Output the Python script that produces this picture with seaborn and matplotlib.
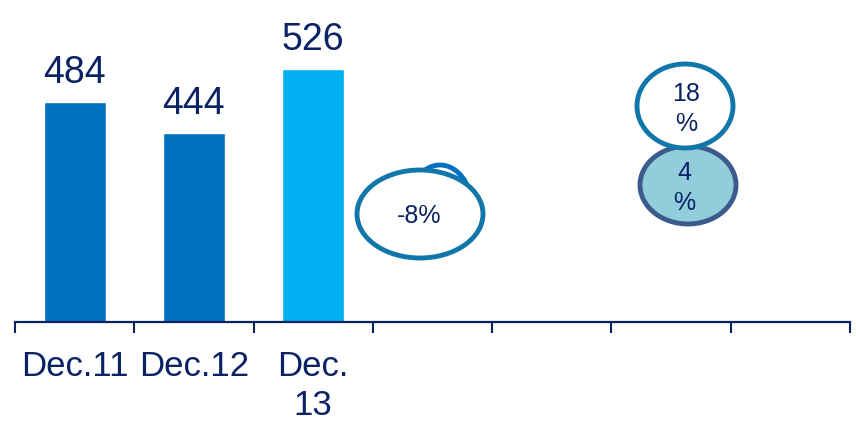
import matplotlib
matplotlib.use("Agg")
import matplotlib.pyplot as plt
from matplotlib.patches import Ellipse
from matplotlib.ticker import FixedLocator
import seaborn as sns

# ---- data ----
categories = ["Dec.11", "Dec.12", "Dec.13"]
values = [484, 444, 526]
tick_labels = ["Dec.11", "Dec.12", "Dec.\n13", "", "", "", ""]
slot_order = ["Dec.11", "Dec.12", "Dec.13", "s4", "s5", "s6", "s7"]
bar_colors = ["#0070C0", "#0070C0", "#00B0F0"]
bubble_texts = ["-8%", "18\n%", "4\n%"]

NAVY = "#0B2265"
W, H = 856, 424

sns.set_theme(style="white")
plt.rcParams["font.family"] = ["Liberation Sans", "DejaVu Sans"]

fig = plt.figure(figsize=(W / 100, H / 100), dpi=100)
ax = fig.add_axes([15 / W, (H - 322) / H, 835 / W, 322 / H])

sns.barplot(x=categories, y=values, hue=categories, palette=bar_colors,
            order=slot_order, hue_order=categories, width=0.52,
            legend=False, ax=ax, saturation=1)

ax.set_xlim(-0.5, 6.5)
ax.set_ylim(200, 200 + 322 / 0.776)

for c in ax.containers:
    ax.bar_label(c, fmt="%d", padding=8, fontsize=27, color=NAVY)

# axes styling
for s in ["top", "right", "left"]:
    ax.spines[s].set_visible(False)
ax.spines["bottom"].set_color(NAVY)
ax.spines["bottom"].set_linewidth(1.6)
ax.set_yticks([])
ax.set_xlabel("")
ax.set_ylabel("")

ax.xaxis.set_major_locator(FixedLocator([i - 0.5 for i in range(8)]))
ax.xaxis.set_minor_locator(FixedLocator(list(range(7))))
ax.set_xticklabels([""] * 8)
ax.set_xticklabels(tick_labels, minor=True, fontsize=25, color=NAVY,
                   linespacing=1.25)
ax.tick_params(axis="x", which="major", direction="out", length=8, width=1.5,
               color=NAVY, bottom=True)
ax.tick_params(axis="x", which="minor", length=0, pad=20)

# ---- annotation bubbles (axes pixel positions) ----
def px(x, y):
    return ((x - 15) / 835, (322 - y) / 322)

def ell(cx, cy, w, h, fc, ec, lw, z):
    e = Ellipse(px(cx, cy), w / 835, h / 322, transform=ax.transAxes,
                facecolor=fc, edgecolor=ec, linewidth=lw, zorder=z, clip_on=False)
    ax.add_patch(e)

# hidden bubble behind -8%
ell(440, 208, 64, 86, "white", "#0070C0", 3.5, 3)
ell(420, 214, 126, 88, "white", "#1177AA", 3.5, 4)
ax.text(*px(419, 216), bubble_texts[0], transform=ax.transAxes, ha="center",
        va="center", fontsize=18, color=NAVY, zorder=5)

ell(688, 185, 96, 78, "#92CDDC", "#3B5B8C", 3.5, 4)
ax.text(*px(684, 188), bubble_texts[2], transform=ax.transAxes, ha="center",
        va="center", fontsize=18, color=NAVY, zorder=5, linespacing=1.3)
ell(685, 106, 96, 84, "white", "#1177AA", 3.5, 6)
ax.text(*px(686, 109), bubble_texts[1], transform=ax.transAxes, ha="center",
        va="center", fontsize=18, color=NAVY, zorder=7, linespacing=1.3)

fig.savefig("out.png", dpi=100)
